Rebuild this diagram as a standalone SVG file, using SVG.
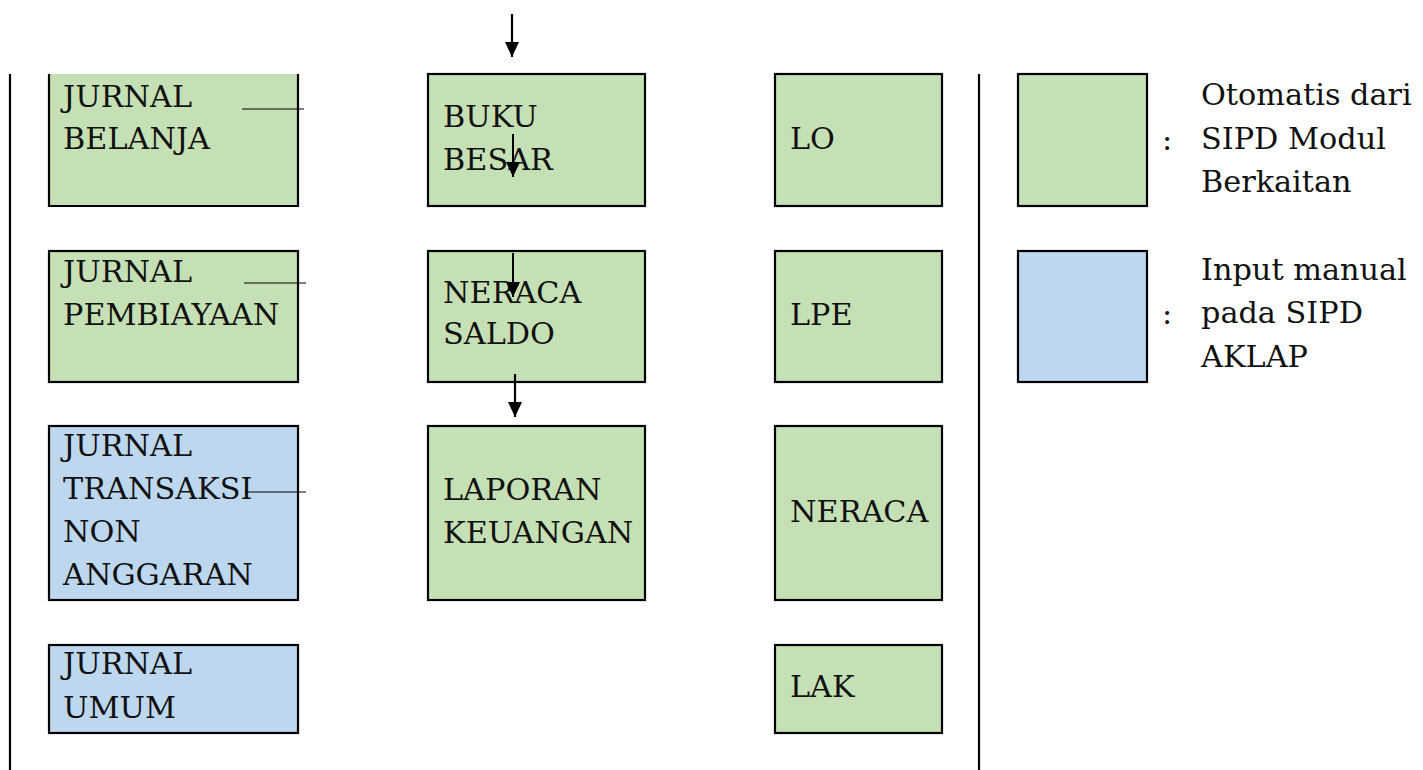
<svg xmlns="http://www.w3.org/2000/svg" width="1423" height="770" viewBox="0 0 1423 770">
<style>
.g{fill:#c5e0b4}
.b{fill:#bdd7ee}
.box{stroke:#000;stroke-width:2.2}
.t{font-family:"DejaVu Serif","Liberation Serif",serif;font-size:30.3px;fill:#111}
.ln{stroke:#000;fill:none}
</style>
<defs>
<marker id="ah" viewBox="0 0 15 14" refX="15" refY="7" markerWidth="15" markerHeight="14" markerUnits="userSpaceOnUse" orient="auto">
<path d="M0,0 L15,7 L0,14 z" fill="#000"/>
</marker>
</defs>
<rect width="1423" height="770" fill="#fff"/>
<g id="dividers">
<line class="ln" x1="10" y1="74" x2="10" y2="770" stroke-width="2.2"/>
<line class="ln" x1="979" y1="74" x2="979" y2="770" stroke-width="2.2"/>
</g>
<g id="jurnal-belanja">
<rect class="g" x="49" y="74" width="249" height="132"/>
<path class="ln" d="M49,74 V206 H298 V74" stroke-width="2.2"/>
<text class="t" x="63" y="107">JURNAL</text>
<text class="t" x="63" y="149">BELANJA</text>
</g>
<g id="jurnal-pembiayaan">
<rect class="g box" x="49" y="251" width="249" height="131"/>
<text class="t" x="63" y="282">JURNAL</text>
<text class="t" x="63" y="325">PEMBIAYAAN</text>
</g>
<g id="jurnal-transaksi">
<rect class="b box" x="49" y="426" width="249" height="174"/>
<text class="t" x="63" y="456">JURNAL</text>
<text class="t" x="63" y="499">TRANSAKSI</text>
<text class="t" x="63" y="542">NON</text>
<text class="t" x="63" y="585">ANGGARAN</text>
</g>
<g id="jurnal-umum">
<rect class="b box" x="49" y="645" width="249" height="88"/>
<text class="t" x="63" y="674">JURNAL</text>
<text class="t" x="63" y="718">UMUM</text>
</g>
<g id="buku-besar">
<rect class="g box" x="428" y="74" width="217" height="132"/>
<text class="t" x="443" y="127">BUKU</text>
<text class="t" x="443" y="170">BESAR</text>
</g>
<g id="neraca-saldo">
<rect class="g box" x="428" y="251" width="217" height="131"/>
<text class="t" x="443" y="303">NERACA</text>
<text class="t" x="443" y="344">SALDO</text>
</g>
<g id="laporan-keuangan">
<rect class="g box" x="428" y="426" width="217" height="174"/>
<text class="t" x="443" y="500">LAPORAN</text>
<text class="t" x="443" y="543">KEUANGAN</text>
</g>
<g id="lo">
<rect class="g box" x="775" y="74" width="167" height="132"/>
<text class="t" x="790" y="149">LO</text>
</g>
<g id="lpe">
<rect class="g box" x="775" y="251" width="167" height="131"/>
<text class="t" x="790" y="325">LPE</text>
</g>
<g id="neraca">
<rect class="g box" x="775" y="426" width="167" height="174"/>
<text class="t" x="790" y="522">NERACA</text>
</g>
<g id="lak">
<rect class="g box" x="775" y="645" width="167" height="88"/>
<text class="t" x="790" y="697">LAK</text>
</g>
<g id="legend-green">
<rect class="g box" x="1018" y="74" width="129" height="132"/>
<text class="t" x="1162" y="150">:</text>
<text class="t" x="1201" y="105">Otomatis dari</text>
<text class="t" x="1201" y="149">SIPD Modul</text>
<text class="t" x="1201" y="192">Berkaitan</text>
</g>
<g id="legend-blue">
<rect class="b box" x="1018" y="251" width="129" height="131"/>
<text class="t" x="1162" y="324">:</text>
<text class="t" x="1201" y="280">Input manual</text>
<text class="t" x="1201" y="323">pada SIPD</text>
<text class="t" x="1201" y="367">AKLAP</text>
</g>
<g id="connectors">
<line class="ln" x1="512" y1="14" x2="512" y2="57" stroke-width="2.2" marker-end="url(#ah)"/>
<line class="ln" x1="513" y1="134" x2="513" y2="177" stroke-width="2" marker-end="url(#ah)"/>
<line class="ln" x1="513" y1="253" x2="513" y2="297" stroke-width="2" marker-end="url(#ah)"/>
<line class="ln" x1="515" y1="374" x2="515" y2="417" stroke-width="2.2" marker-end="url(#ah)"/>
<line class="ln" x1="242" y1="109" x2="304" y2="109" stroke-width="1.2"/>
<line class="ln" x1="244" y1="283" x2="306" y2="283" stroke-width="1.2"/>
<line class="ln" x1="245" y1="492" x2="306" y2="492" stroke-width="1.2"/>
</g>
</svg>
